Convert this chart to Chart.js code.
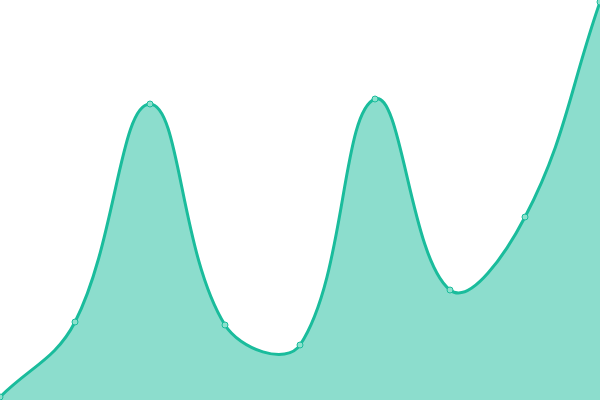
<!DOCTYPE html>
<html>
<head>
<meta charset="utf-8">
<script src="https://cdn.jsdelivr.net/npm/chart.js@4/dist/chart.umd.min.js"></script>
<style>
  html, body { margin: 0; padding: 0; background: #fff; }
  #wrap { width: 600px; height: 400px; }
</style>
</head>
<body>
<div id="wrap"><canvas id="area-chart"></canvas></div>
<script>
// values (scale 0..400)
const labels = ['1', '2', '3', '4', '5', '6', '7', '8', '9'];
const values = [3, 78, 296, 75, 55, 301, 110, 183, 398];

const LINE = '#1abc9c';

new Chart(document.getElementById('area-chart'), {
  type: 'line',
  data: {
    labels: labels,
    datasets: [{
      data: values,
      borderColor: LINE,
      borderWidth: 3,
      backgroundColor: 'rgba(26,188,156,0.5)',
      fill: 'origin',
      tension: 0.4,
      pointRadius: 3,
      pointBorderWidth: 1,
      pointBorderColor: LINE,
      pointBackgroundColor: 'rgba(140,225,205,1)',
      clip: false,
    }]
  },
  options: {
    responsive: true,
    maintainAspectRatio: false,
    animation: false,
    layout: { padding: 0, autoPadding: false },
    plugins: { legend: { display: false }, tooltip: { enabled: false } },
    scales: {
      x: { display: false, offset: false },
      y: { display: false, min: 0, max: 400 }
    }
  }
});
</script>
</body>
</html>
